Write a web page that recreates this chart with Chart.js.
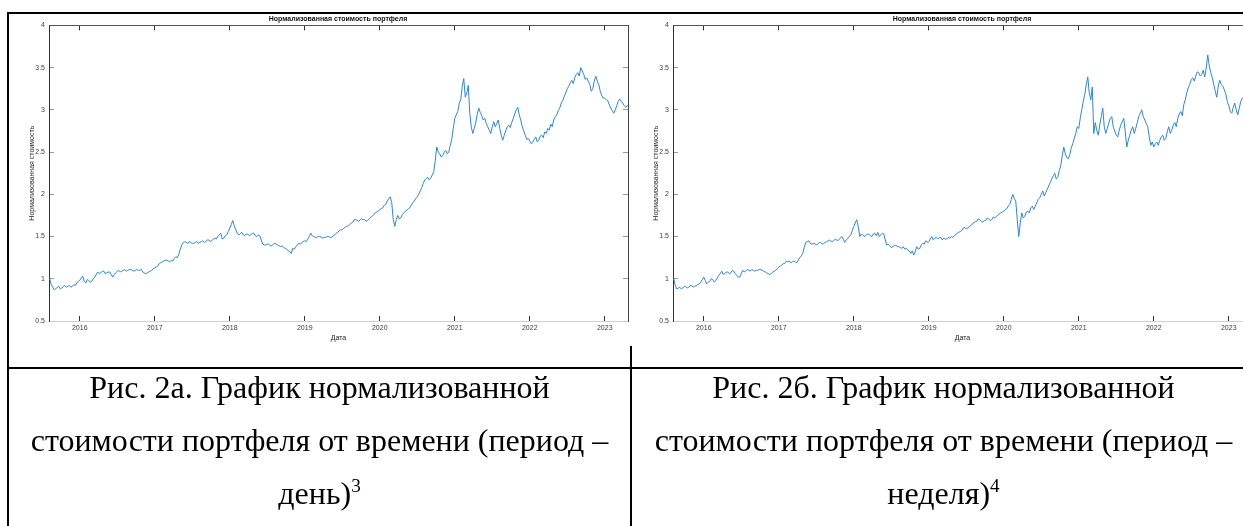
<!DOCTYPE html>
<html lang="ru">
<head>
<meta charset="utf-8">
<script src="https://cdn.jsdelivr.net/npm/chart.js@4/dist/chart.umd.min.js"></script>
<style>
  html, body { margin: 0; padding: 0; background: #fff; }
  body { width: 1243px; height: 526px; overflow: hidden; position: relative; }
  canvas { position: absolute; top: 0; }
  .rule { position: absolute; background: #000; }
  .caption {
    position: absolute; top: 361px; text-align: center;
    font-family: 'Liberation Serif', 'Times New Roman', serif;
    font-size: 32px; line-height: 53px; color: #000;
  }
  .caption span { font-size: 0.6em; vertical-align: super; line-height: 0; }
</style>
</head>
<body>
<canvas id="chartDay" width="658" height="350" style="left:9px"></canvas>
<canvas id="chartWeek" width="658" height="350" style="left:633px"></canvas>

<div class="rule" style="left:7px; top:12px; width:1250px; height:2px"></div>
<div class="rule" style="left:7px; top:12px; width:2px; height:514px"></div>
<div class="rule" style="left:7px; top:367px; width:1250px; height:2px"></div>
<div class="rule" style="left:630px; top:346px; width:2px; height:180px"></div>

<div class="caption" style="left:9px; width:621px">Рис. 2а. График нормализованной<br>стоимости портфеля от времени (период –<br>день)<span>3</span></div>
<div class="caption" style="left:632px; width:623px">Рис. 2б. График нормализованной<br>стоимости портфеля от времени (период –<br>неделя)<span>4</span></div>

<script>
// ось времени в долях года, шаг ~1 неделя
const startYear = 2015.60;
const stepYear = 0.02;
const yearTicks = [2016, 2017, 2018, 2019, 2020, 2021, 2022, 2023];
const valueTicks = [0.5, 1, 1.5, 2, 2.5, 3, 3.5, 4];

// нормализованная стоимость, период - день (одна строка - один год)
const dayValues = [
  1.00, 0.93, 0.90, 0.87, 0.88, 0.90, 0.91, 0.88, 0.89, 0.91, 0.92, 0.90, 0.91, 0.92, 0.90, 0.91, 0.93, 0.92, 0.95, 0.97,
  0.98, 1.01, 1.03, 0.97, 0.95, 0.99, 0.98, 0.96, 0.97, 1.00, 1.02, 1.05, 1.08, 1.06, 1.07, 1.09, 1.09, 1.06, 1.07, 1.08,
  1.08, 1.05, 1.02, 1.05, 1.07, 1.09, 1.10, 1.08, 1.09, 1.10, 1.11, 1.09, 1.10, 1.11, 1.11, 1.10, 1.09, 1.10, 1.11, 1.10,
  1.10, 1.11, 1.08, 1.07, 1.06, 1.07, 1.08, 1.09, 1.10, 1.12,
  1.13, 1.14, 1.15, 1.18, 1.19, 1.20, 1.21, 1.22, 1.22, 1.21, 1.20, 1.22, 1.21, 1.24, 1.26, 1.25, 1.29, 1.35, 1.40, 1.43,
  1.44, 1.43, 1.42, 1.44, 1.43, 1.42, 1.42, 1.43, 1.44, 1.42, 1.43, 1.44, 1.45, 1.43, 1.44, 1.46, 1.46, 1.44, 1.45, 1.47,
  1.48, 1.47, 1.50, 1.52, 1.54, 1.47, 1.48, 1.51, 1.52, 1.56,
  1.60, 1.64, 1.69, 1.63, 1.58, 1.54, 1.52, 1.53, 1.55, 1.52, 1.51, 1.53, 1.53, 1.51, 1.52, 1.54, 1.54, 1.51, 1.50, 1.52,
  1.51, 1.46, 1.41, 1.40, 1.40, 1.41, 1.41, 1.39, 1.39, 1.41, 1.42, 1.41, 1.40, 1.39, 1.38, 1.39, 1.37, 1.36, 1.35, 1.33,
  1.32, 1.30, 1.36, 1.35, 1.38, 1.40, 1.42, 1.41, 1.43, 1.44,
  1.45, 1.44, 1.47, 1.50, 1.54, 1.51, 1.50, 1.49, 1.49, 1.50, 1.50, 1.49, 1.48, 1.49, 1.49, 1.50, 1.50, 1.49, 1.49, 1.51,
  1.52, 1.54, 1.55, 1.57, 1.58, 1.58, 1.60, 1.61, 1.62, 1.63, 1.64, 1.66, 1.67, 1.70, 1.70, 1.69, 1.68, 1.70, 1.71, 1.70,
  1.70, 1.68, 1.69, 1.71, 1.73, 1.74, 1.76, 1.78, 1.79, 1.80,
  1.82, 1.83, 1.84, 1.87, 1.88, 1.92, 1.95, 1.97, 1.90, 1.70, 1.62, 1.70, 1.75, 1.71, 1.72, 1.76, 1.78, 1.80, 1.81, 1.83,
  1.84, 1.87, 1.90, 1.92, 1.95, 1.97, 2.00, 2.04, 2.08, 2.13, 2.17, 2.19, 2.20, 2.17, 2.19, 2.23, 2.27, 2.40, 2.56, 2.50,
  2.48, 2.44, 2.46, 2.50, 2.52, 2.48, 2.50, 2.58, 2.65, 2.78,
  2.90, 2.94, 2.98, 3.08, 3.12, 3.28, 3.37, 3.15, 3.20, 3.29, 2.96, 2.80, 2.72, 2.78, 2.85, 2.95, 3.02, 2.97, 2.93, 2.88,
  2.90, 2.84, 2.80, 2.76, 2.72, 2.80, 2.86, 2.80, 2.84, 2.88, 2.78, 2.70, 2.64, 2.70, 2.75, 2.80, 2.82, 2.79, 2.85, 2.90,
  2.95, 3.00, 3.03, 2.94, 2.88, 2.80, 2.75, 2.70, 2.65, 2.66,
  2.63, 2.60, 2.62, 2.65, 2.68, 2.62, 2.64, 2.69, 2.70, 2.67, 2.74, 2.72, 2.78, 2.76, 2.83, 2.80, 2.88, 2.92, 2.94, 2.99,
  3.02, 3.08, 3.11, 3.16, 3.20, 3.25, 3.28, 3.32, 3.35, 3.31, 3.38, 3.42, 3.44, 3.40, 3.50, 3.46, 3.42, 3.36, 3.38, 3.34,
  3.30, 3.22, 3.25, 3.34, 3.40, 3.34, 3.30, 3.22, 3.17, 3.14,
  3.14, 3.12, 3.11, 3.06, 3.02, 2.99, 2.96, 3.00, 3.05, 3.10, 3.13, 3.10, 3.08, 3.05, 3.03, 3.05, 3.06
];

// нормализованная стоимость, период - неделя
const weekValues = [
  1.00, 0.92, 0.88, 0.89, 0.90, 0.88, 0.89, 0.91, 0.91, 0.89, 0.90, 0.92, 0.92, 0.90, 0.91, 0.92, 0.93, 0.94, 0.96, 0.99,
  1.02, 0.98, 0.94, 0.96, 0.97, 1.00, 0.99, 0.96, 0.98, 1.01, 1.04, 1.06, 1.09, 1.05, 1.06, 1.08, 1.08, 1.06, 1.07, 1.10,
  1.09, 1.06, 1.04, 1.02, 1.02, 1.06, 1.10, 1.08, 1.09, 1.11, 1.10, 1.09, 1.11, 1.10, 1.09, 1.10, 1.10, 1.11, 1.11, 1.10,
  1.09, 1.08, 1.07, 1.06, 1.05, 1.06, 1.08, 1.09, 1.10, 1.12,
  1.14, 1.15, 1.16, 1.18, 1.18, 1.21, 1.20, 1.21, 1.19, 1.20, 1.21, 1.20, 1.19, 1.22, 1.25, 1.27, 1.30, 1.37, 1.43, 1.44,
  1.45, 1.42, 1.41, 1.42, 1.42, 1.40, 1.41, 1.43, 1.43, 1.41, 1.42, 1.43, 1.44, 1.45, 1.46, 1.44, 1.44, 1.46, 1.47, 1.45,
  1.46, 1.48, 1.50, 1.47, 1.43, 1.46, 1.48, 1.50, 1.52, 1.57,
  1.62, 1.66, 1.70, 1.62, 1.50, 1.53, 1.52, 1.50, 1.51, 1.53, 1.53, 1.51, 1.50, 1.53, 1.54, 1.51, 1.55, 1.50, 1.52, 1.54,
  1.53, 1.46, 1.40, 1.41, 1.39, 1.37, 1.38, 1.39, 1.40, 1.38, 1.38, 1.37, 1.36, 1.38, 1.35, 1.36, 1.34, 1.33, 1.30, 1.33,
  1.28, 1.32, 1.38, 1.35, 1.36, 1.40, 1.42, 1.41, 1.45, 1.43,
  1.44, 1.47, 1.50, 1.46, 1.48, 1.49, 1.47, 1.49, 1.49, 1.46, 1.48, 1.47, 1.47, 1.49, 1.48, 1.50, 1.49, 1.51, 1.52, 1.54,
  1.55, 1.56, 1.57, 1.60, 1.61, 1.59, 1.60, 1.62, 1.63, 1.65, 1.66, 1.68, 1.68, 1.71, 1.70, 1.68, 1.67, 1.69, 1.69, 1.72,
  1.71, 1.69, 1.70, 1.73, 1.72, 1.74, 1.75, 1.77, 1.78, 1.79,
  1.80, 1.82, 1.83, 1.86, 1.88, 1.94, 2.00, 1.95, 1.92, 1.70, 1.50, 1.66, 1.78, 1.72, 1.74, 1.79, 1.80, 1.78, 1.84, 1.86,
  1.82, 1.86, 1.90, 1.94, 1.96, 2.00, 2.04, 1.98, 2.02, 2.06, 2.10, 2.14, 2.18, 2.22, 2.25, 2.18, 2.20, 2.28, 2.34, 2.46,
  2.56, 2.48, 2.44, 2.42, 2.47, 2.55, 2.60, 2.66, 2.72, 2.80,
  2.78, 2.90, 3.00, 3.10, 3.18, 3.30, 3.39, 3.20, 3.12, 3.27, 2.72, 2.85, 2.76, 2.70, 2.82, 2.92, 3.02, 2.80, 2.72, 2.78,
  2.84, 2.90, 2.92, 2.80, 2.75, 2.70, 2.68, 2.76, 2.82, 2.86, 2.90, 2.74, 2.56, 2.64, 2.70, 2.76, 2.80, 2.72, 2.78, 2.85,
  2.92, 2.96, 3.00, 2.92, 2.88, 2.84, 2.80, 2.68, 2.58, 2.62,
  2.56, 2.60, 2.62, 2.58, 2.64, 2.68, 2.70, 2.64, 2.66, 2.74, 2.80, 2.72, 2.76, 2.82, 2.85, 2.80, 2.90, 2.95, 2.98, 2.93,
  3.06, 3.12, 3.20, 3.26, 3.30, 3.36, 3.38, 3.34, 3.40, 3.45, 3.44, 3.40, 3.42, 3.47, 3.39, 3.50, 3.65, 3.52, 3.44, 3.38,
  3.30, 3.22, 3.15, 3.28, 3.35, 3.30, 3.28, 3.24, 3.19, 3.10,
  3.05, 2.98, 2.96, 3.03, 3.08, 3.00, 2.94, 3.02, 3.10, 3.14, 3.15, 3.08, 3.05, 3.09, 3.12, 3.08, 3.10
];

const tickFont = { family: 'Liberation Sans', size: 7 };
const tickColor = '#3c3c3c';

function makeChart(id, values) {
  const points = values.map((v, i) => ({ x: startYear + i * stepYear, y: v }));
  const setYears = s => { s.ticks = yearTicks.map(v => ({ value: v })); };
  const setValues = s => { s.ticks = valueTicks.map(v => ({ value: v })); };

  return new Chart(document.getElementById(id), {
    type: 'line',
    data: {
      datasets: [{
        data: points,
        borderColor: '#3088c5',
        borderWidth: 1,
        pointRadius: 0,
        tension: 0,
        fill: false
      }]
    },
    options: {
      responsive: false,
      animation: false,
      devicePixelRatio: 1,
      layout: { padding: 0 },
      plugins: {
        legend: { display: false },
        tooltip: { enabled: false },
        title: {
          display: true,
          text: 'Нормализованная стоимость портфеля',
          color: '#111',
          font: { family: 'Liberation Sans', size: 7, weight: 'bold' },
          padding: { top: 15, bottom: 2 }
        }
      },
      scales: {
        x: {
          type: 'linear', position: 'bottom', min: 2015.59, max: 2023.31,
          afterBuildTicks: setYears,
          afterFit: s => { s.height = 29; },
          ticks: { font: tickFont, color: tickColor, padding: 8, autoSkip: false, maxRotation: 0, callback: v => String(v) },
          grid: { drawOnChartArea: false, tickLength: -5, tickColor: '#333' },
          border: { color: '#d0d0d0' },
          title: { display: true, text: 'Дата', font: tickFont, color: '#222', padding: { top: 0, bottom: 8 } }
        },
        xTop: {
          type: 'linear', position: 'top', min: 2015.59, max: 2023.31,
          afterBuildTicks: setYears,
          afterFit: s => { s.height = 0; },
          ticks: { display: false },
          grid: { drawOnChartArea: false, tickLength: -5, tickColor: '#333' },
          border: { color: '#555' }
        },
        y: {
          type: 'linear', position: 'left', min: 0.5, max: 4,
          afterBuildTicks: setValues,
          afterFit: s => { s.width = 40; },
          ticks: { font: tickFont, color: tickColor, padding: 9, callback: v => String(v) },
          grid: { drawOnChartArea: false, tickLength: -5, tickColor: '#999' },
          border: { color: '#333' },
          title: { display: true, text: 'Нормализованная стоимость', font: tickFont, color: '#222', padding: { top: 19, bottom: 0 } }
        },
        yRight: {
          type: 'linear', position: 'right', min: 0.5, max: 4,
          afterBuildTicks: setValues,
          afterFit: s => { s.width = 39; },
          ticks: { display: false },
          grid: { drawOnChartArea: false, tickLength: -5, tickColor: '#999' },
          border: { color: '#444' }
        }
      }
    }
  });
}

makeChart('chartDay', dayValues);
makeChart('chartWeek', weekValues);
</script>
</body>
</html>
